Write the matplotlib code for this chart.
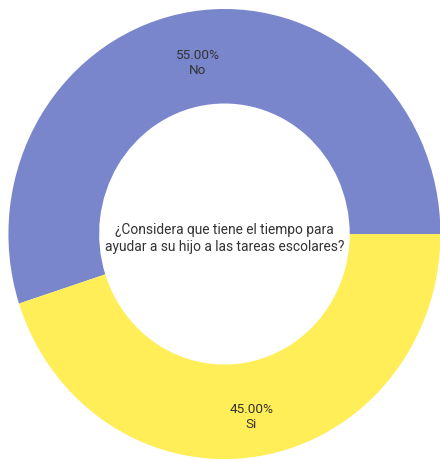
import numpy as np
import matplotlib
matplotlib.use('Agg')
import matplotlib.pyplot as plt

# datos
categorias = ['No', 'Si']
valores = [55.0, 45.0]
colores = ['#7986CB', '#FFEE58']
pregunta = '¿Considera que tiene el tiempo para\nayudar a su hijo a las tareas escolares?'

plt.rcParams['font.family'] = ['Roboto', 'DejaVu Sans']

fig = plt.figure(figsize=(4.40, 4.62), dpi=100)
ax = fig.add_axes([0, 0, 1, 1])

wedges, _ = ax.pie(valores, colors=colores, startangle=0, counterclock=True,
                   radius=1.0, wedgeprops=dict(width=0.42, linewidth=0))

# etiquetas en el centro de cada arco
total = sum(valores)
ang0 = 0.0
for cat, val in zip(categorias, valores):
    ang = ang0 + 360.0 * val / total / 2
    ang0 += 360.0 * val / total
    r = 0.795
    x = r * np.cos(np.radians(ang))
    y = r * np.sin(np.radians(ang)) - 0.027
    ax.text(x, y, '%.2f%%\n%s' % (100.0 * val / total, cat), ha='center', va='center',
            fontsize=9.7, color='#333333', linespacing=1.2)

ax.text(0.0, -0.02, pregunta, ha='center', va='center', fontsize=9.9,
        color='#333333', linespacing=1.25)

# la imagen original esta algo comprimida en horizontal
ax.set_aspect('auto')
ax.set_xlim(-1.039, 0.998)
ax.set_ylim(-1.013, 1.04)
ax.axis('off')

fig.savefig('out.png', dpi=100, facecolor='white')
